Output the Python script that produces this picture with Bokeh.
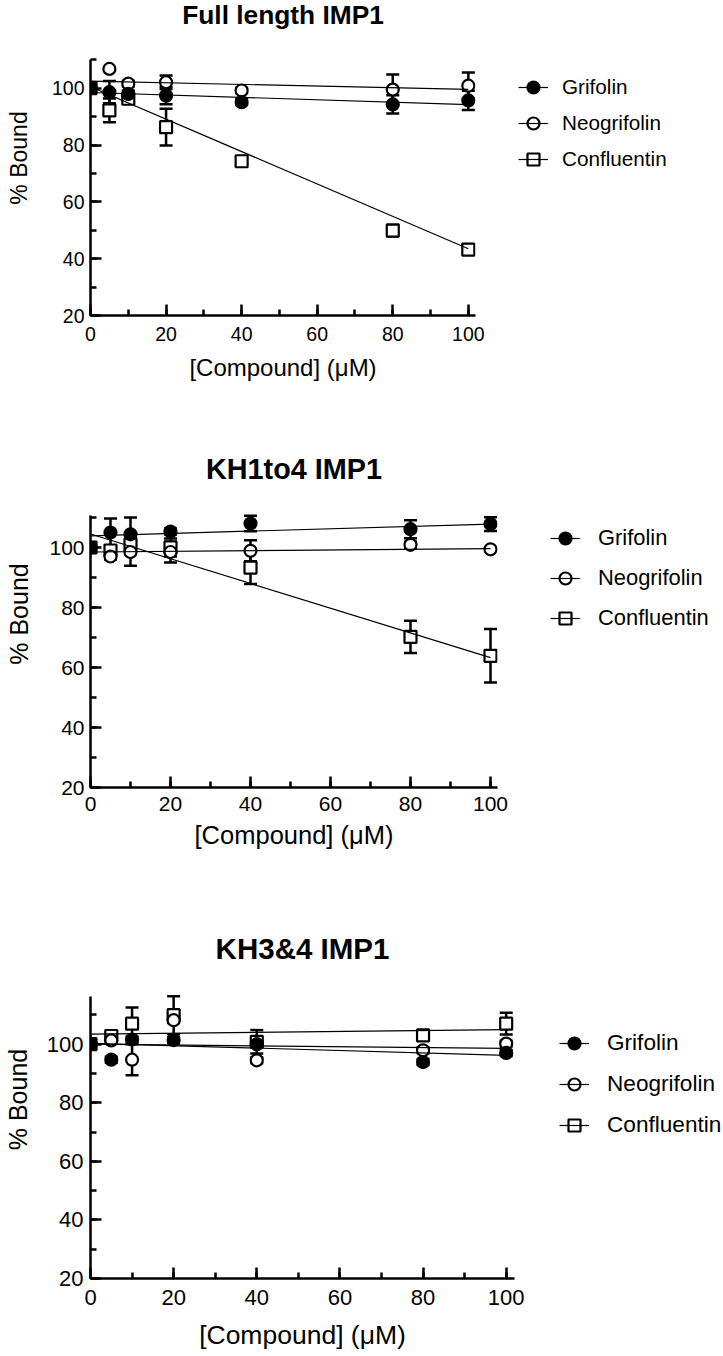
from bokeh.plotting import figure
from bokeh.models import (Range1d, SingleIntervalTicker, Whisker, TeeHead,
                          ColumnDataSource, Legend, LegendItem, Label)
from bokeh.layouts import column
from bokeh.embed import file_html
from bokeh.resources import INLINE

FONT = "Liberation Sans"

# ---------------- data ----------------
x_conc = [0, 5, 10, 20, 40, 80, 100]
series_names = ["Grifolin", "Neogrifolin", "Confluentin"]
panel_titles = ["Full length IMP1", "KH1to4 IMP1", "KH3&4 IMP1"]
x_label = "[Compound] (\u03bcM)"
y_label = "% Bound"
fit_x = [0, 100]

# Full length IMP1
fl_grifolin = [100, 98.6, 98.0, 97.4, 95.1, 94.3, 95.7]
fl_grifolin_err = [0, 3.9, 1.2, 3.0, 1.0, 3.2, 3.4]
fl_neogrifolin = [100, 106.8, 101.6, 102.1, 99.2, 99.5, 100.9]
fl_neogrifolin_err = [0, 0.5, 1.0, 2.4, 1.0, 5.3, 4.6]
fl_confluentin = [100, 92.2, 96.3, 86.3, 74.3, 49.9, 43.2]
fl_confluentin_err = [0, 4.2, 1.0, 6.5, 1.0, 2.0, 1.0]
fl_fit_start = [98.5, 102.5, 100.5]
fl_fit_end = [94.2, 99.6, 43.5]

# KH1to4 IMP1
kh14_grifolin = [100, 105.0, 104.4, 105.3, 108.0, 106.1, 107.8]
kh14_grifolin_err = [0, 4.7, 5.6, 1.0, 2.6, 3.0, 2.3]
kh14_neogrifolin = [100, 97.0, 98.5, 98.5, 98.9, 100.9, 99.4]
kh14_neogrifolin_err = [0, 1.0, 4.6, 3.5, 3.5, 1.0, 0.5]
kh14_confluentin = [100, 99.0, 101.0, 100.0, 93.3, 70.2, 63.9]
kh14_confluentin_err = [0, 1.5, 2.0, 3.0, 5.5, 5.4, 8.9]
kh14_fit_start = [103.9, 98.5, 104.5]
kh14_fit_end = [107.8, 99.6, 63.3]

# KH3&4 IMP1
kh34_grifolin = [100, 94.7, 101.6, 101.4, 100.0, 93.9, 97.0]
kh34_grifolin_err = [0, 1.0, 1.0, 1.0, 1.0, 1.0, 1.0]
kh34_neogrifolin = [100, 101.3, 94.7, 108.2, 94.5, 97.9, 100.2]
kh34_neogrifolin_err = [0, 1.0, 5.3, 1.0, 1.0, 1.0, 1.0]
kh34_confluentin = [100, 102.8, 107.0, 109.9, 100.8, 103.0, 107.0]
kh34_confluentin_err = [0, 1.0, 5.5, 6.5, 4.0, 1.0, 3.7]
kh34_fit_start = [100.3, 100.0, 103.4]
kh34_fit_end = [96.2, 98.6, 105.0]

panels_data = [
    ([fl_grifolin, fl_neogrifolin, fl_confluentin],
     [fl_grifolin_err, fl_neogrifolin_err, fl_confluentin_err],
     fl_fit_start, fl_fit_end),
    ([kh14_grifolin, kh14_neogrifolin, kh14_confluentin],
     [kh14_grifolin_err, kh14_neogrifolin_err, kh14_confluentin_err],
     kh14_fit_start, kh14_fit_end),
    ([kh34_grifolin, kh34_neogrifolin, kh34_confluentin],
     [kh34_grifolin_err, kh34_neogrifolin_err, kh34_confluentin_err],
     kh34_fit_start, kh34_fit_end),
]

# ---------------- styles / layout ----------------
marker_styles = [
    dict(marker="circle", fill_color="black"),
    dict(marker="circle", fill_color="white"),
    dict(marker="square", fill_color="white"),
]

FIG_W = 723

# px_x / px_y: pixels per data unit; fh: frame height (top of figure down to x axis)
panel_cfg = [
    dict(mbl=88, fh=315, mbb=125, px_x=3.78, px_y=2.841, x_end=101.9, y_end=110.0,
         title_px=301, title_fs=26.3, tick_fs=19.5, xl_fs=24, yl_fs=23,
         xt_so=11, yt_so=6, xl_so=10, yl_so=17,
         leg_loc=(43, 141), leg_sp=6, leg_so=14, leg_fs=20.7),
    dict(mbl=86, fh=347, mbb=133, px_x=4.0, px_y=3.0, x_end=101.75, y_end=110.6,
         title_px=318.7, title_fs=28.8, tick_fs=21, xl_fs=25.5, yl_fs=25,
         xt_so=9, yt_so=6, xl_so=7, yl_so=13,
         leg_loc=(53, 154), leg_sp=10, leg_so=18, leg_fs=21.9),
    dict(mbl=86, fh=358, mbb=78, px_x=4.157, px_y=2.929, x_end=102.0, y_end=116.3,
         title_px=329.7, title_fs=29.5, tick_fs=22, xl_fs=26.5, yl_fs=25,
         xt_so=11, yt_so=7, xl_so=12, yl_so=12,
         leg_loc=(45, 138), leg_sp=11, leg_so=18, leg_fs=22.6),
]


def make_panel(title, data, cfg):
    ys, errs, fit_start, fit_end = data
    fw = int(round(cfg["x_end"] * cfg["px_x"]))
    y_total = 20 + cfg["fh"] / cfg["px_y"]

    p = figure(frame_width=fw, frame_height=cfg["fh"],
               x_range=Range1d(0, cfg["x_end"]), y_range=Range1d(20, y_total),
               output_backend="svg", toolbar_location=None,
               min_border_left=cfg["mbl"], min_border_top=0,
               min_border_bottom=cfg["mbb"],
               min_border_right=FIG_W - cfg["mbl"] - fw)
    p.outline_line_color = None
    p.xgrid.visible = False
    p.ygrid.visible = False
    p.background_fill_color = "white"
    p.border_fill_color = "white"

    p.xaxis.ticker = SingleIntervalTicker(interval=20, num_minor_ticks=2)
    p.yaxis.ticker = SingleIntervalTicker(interval=20, num_minor_ticks=2)
    p.yaxis.bounds = (20, cfg["y_end"])
    for ax in (p.xaxis[0], p.yaxis[0]):
        ax.axis_line_width = 2.5
        ax.axis_line_color = "black"
        ax.major_tick_line_width = 2.5
        ax.minor_tick_line_width = 2.5
        ax.major_tick_line_color = "black"
        ax.minor_tick_line_color = "black"
        ax.major_tick_in = 11
        ax.major_tick_out = 0
        ax.minor_tick_in = 6
        ax.minor_tick_out = 0
        ax.major_label_text_font = FONT
        ax.major_label_text_font_size = f"{cfg['tick_fs']}px"
        ax.major_label_text_color = "black"
        ax.axis_label_text_font = FONT
        ax.axis_label_text_font_style = "normal"
        ax.axis_label_text_color = "black"
    p.xaxis.axis_label = x_label
    p.yaxis.axis_label = y_label
    p.xaxis.axis_label_text_font_size = f"{cfg['xl_fs']}px"
    p.yaxis.axis_label_text_font_size = f"{cfg['yl_fs']}px"
    p.xaxis.major_label_standoff = cfg["xt_so"]
    p.yaxis.major_label_standoff = cfg["yt_so"]
    p.xaxis.axis_label_standoff = cfg["xl_so"]
    p.yaxis.axis_label_standoff = cfg["yl_so"]

    # title (inside the upward-extended frame, centred over the x axis)
    p.add_layout(Label(x=cfg["x_end"] / 2, y=20 + cfg["title_px"] / cfg["px_y"],
                       text=title, text_align="center", text_baseline="alphabetic",
                       text_font=FONT, text_font_size=f"{cfg['title_fs']}px",
                       text_font_style="bold", text_color="black"))

    # error bars (under markers)
    for yv, ev in zip(ys, errs):
        keep = [i for i, e in enumerate(ev) if e > 0]
        src = ColumnDataSource(dict(
            base=[x_conc[i] for i in keep],
            upper=[yv[i] + ev[i] for i in keep],
            lower=[yv[i] - ev[i] for i in keep]))
        w = Whisker(base="base", upper="upper", lower="lower", source=src,
                    dimension="height", line_width=2.5, line_color="black",
                    upper_head=TeeHead(size=13, line_width=2.5, line_color="black"),
                    lower_head=TeeHead(size=13, line_width=2.5, line_color="black"),
                    level="underlay")
        p.add_layout(w)

    # markers: Confluentin, Neogrifolin, then Grifolin on top
    scatter_r = [None, None, None]
    for k in (2, 1, 0):
        st = marker_styles[k]
        scatter_r[k] = p.scatter(x_conc, ys[k], marker=st["marker"], size=12,
                                 fill_color=st["fill_color"], line_color="black",
                                 line_width=2.2)

    # fit lines on top
    line_r = []
    for k in range(3):
        line_r.append(p.line(fit_x, [fit_start[k], fit_end[k]],
                             line_color="black", line_width=1.2))

    # legend in the right side panel
    items = [LegendItem(label=series_names[k], renderers=[scatter_r[k], line_r[k]])
             for k in range(3)]
    leg = Legend(items=items, location=cfg["leg_loc"], orientation="vertical",
                 background_fill_alpha=0, border_line_alpha=0, padding=0, margin=0,
                 spacing=cfg["leg_sp"], glyph_width=30, glyph_height=30,
                 label_height=30, label_standoff=cfg["leg_so"],
                 label_text_font=FONT, label_text_font_size=f"{cfg['leg_fs']}px",
                 label_text_color="black", label_text_baseline="middle")
    p.add_layout(leg, "right")
    return p


figs = [make_panel(t, d, c) for t, d, c in zip(panel_titles, panels_data, panel_cfg)]
layout = column(*figs, spacing=0)

open("out.html", "w").write(file_html(layout, INLINE))
